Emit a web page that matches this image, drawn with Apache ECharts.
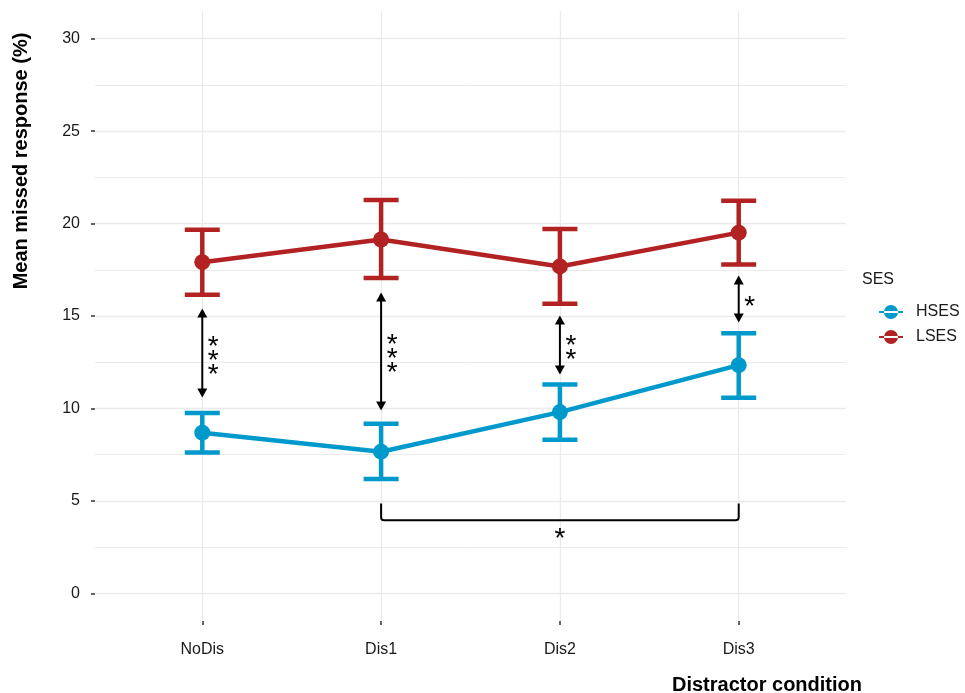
<!DOCTYPE html>
<html>
<head>
<meta charset="utf-8">
<script src="https://cdn.jsdelivr.net/npm/echarts@6/dist/echarts.min.js"></script>
<style>
  html, body { margin: 0; padding: 0; background: #ffffff; }
  #chart { width: 965px; height: 693px; }
</style>
</head>
<body>
<div id="chart"></div>
<script>
// Distractor conditions along the x axis (positions 1..4)
const categories = ['NoDis', 'Dis1', 'Dis2', 'Dis3'];

// High-SES group: mean and error-bar limits
const hsesMean = [8.69, 7.66, 9.80, 12.34];
const hsesLow  = [7.62, 6.18, 8.31, 10.58];
const hsesHigh = [9.75, 9.17, 11.30, 14.07];

// Low-SES group: mean and error-bar limits
const lsesMean = [17.91, 19.14, 17.68, 19.51];
const lsesLow  = [16.15, 17.05, 15.66, 17.78];
const lsesHigh = [19.66, 21.28, 19.71, 21.24];

// y-axis tick labels and minor grid positions
const yTicks = [0, 5, 10, 15, 20, 25, 30];
const yMinor = [2.5, 7.5, 12.5, 17.5, 22.5, 27.5];

// Between-group significance arrows at each condition
const arrowTop    = [15.41, 16.27, 15.03, 17.19];
const arrowBottom = [10.59, 9.89, 11.84, 14.65];
const arrowStars  = ['*\n*\n*', '*\n*\n*', '*\n*', '*'];

// Within-group bracket (Dis1 vs Dis3)
const bracketFrom = 2;
const bracketTo = 4;
const bracketTop = 4.86;
const bracketBottom = 3.95;
const bracketStarY = 3.2;
const bracketStar = '*';

const BLUE = '#0099cc';
const RED = '#b22222';
const GRID = '#ebebeb';
const FONT = '"Liberation Sans", Arial, sans-serif';

const xPos = categories.map((c, i) => i + 1);

function errorSeries(name, low, high, color) {
  return {
    type: 'custom',
    name: name,
    z: 3,
    data: xPos.map((x, i) => [x, low[i], high[i]]),
    encode: { x: 0, y: [1, 2] },
    renderItem: function (params, api) {
      const x = api.value(0);
      const lo = api.coord([x, api.value(1)]);
      const hi = api.coord([x, api.value(2)]);
      const half = 17.5;
      const style = { stroke: color, lineWidth: 4.5, fill: null };
      return {
        type: 'group',
        children: [
          { type: 'line', shape: { x1: lo[0], y1: lo[1], x2: hi[0], y2: hi[1] }, style: style },
          { type: 'line', shape: { x1: lo[0] - half, y1: lo[1], x2: lo[0] + half, y2: lo[1] }, style: style },
          { type: 'line', shape: { x1: hi[0] - half, y1: hi[1], x2: hi[0] + half, y2: hi[1] }, style: style }
        ]
      };
    }
  };
}

function lineSeries(name, mean, color) {
  return {
    type: 'line',
    name: name,
    z: 4,
    data: xPos.map((x, i) => [x, mean[i]]),
    symbol: 'circle',
    symbolSize: 16,
    lineStyle: { color: color, width: 4.5 },
    itemStyle: { color: color },
    emphasis: { disabled: true },
    animation: false
  };
}

// Background grid drawn as mark lines so it can include minor rows
const gridSeries = {
  type: 'line',
  name: 'grid',
  data: [],
  z: 0,
  silent: true,
  markLine: {
    z: 0,
    silent: true,
    symbol: ['none', 'none'],
    label: { show: false },
    animation: false,
    emphasis: { disabled: true },
    data: [
      ...xPos.map(v => ({ xAxis: v, lineStyle: { color: GRID, width: 1.3, type: 'solid' } })),
      ...yTicks.map(v => ({ yAxis: v, lineStyle: { color: GRID, width: 1.3, type: 'solid' } })),
      ...yMinor.map(v => ({ yAxis: v, lineStyle: { color: GRID, width: 1, type: 'solid' } }))
    ]
  }
};

const arrowSeries = {
  type: 'custom',
  name: 'arrows',
  z: 5,
  data: xPos.map((x, i) => [x, arrowTop[i], arrowBottom[i]]),
  encode: { x: 0, y: [1, 2] },
  renderItem: function (params, api) {
    const x = api.value(0);
    const t = api.coord([x, api.value(1)]);
    const b = api.coord([x, api.value(2)]);
    const hl = 9, hw = 5;
    const mid = (t[1] + b[1]) / 2;
    return {
      type: 'group',
      children: [
        { type: 'line', shape: { x1: t[0], y1: t[1] + 6, x2: b[0], y2: b[1] - 6 },
          style: { stroke: '#000', lineWidth: 2 } },
        { type: 'polygon', shape: { points: [[t[0], t[1]], [t[0] - hw, t[1] + hl], [t[0] + hw, t[1] + hl]] },
          style: { fill: '#000' } },
        { type: 'polygon', shape: { points: [[b[0], b[1]], [b[0] - hw, b[1] - hl], [b[0] + hw, b[1] - hl]] },
          style: { fill: '#000' } },
        { type: 'text',
          style: { text: arrowStars[params.dataIndex], x: t[0] + 11, y: mid + 8,
                   align: 'center', verticalAlign: 'middle', lineHeight: 14,
                   font: '28px ' + FONT, fill: '#000' } }
      ]
    };
  }
};

const bracketSeries = {
  type: 'custom',
  name: 'bracket',
  z: 5,
  data: [[bracketFrom, bracketTo, bracketTop, bracketBottom, bracketStarY]],
  encode: { x: [0, 1], y: [2, 3] },
  renderItem: function (params, api) {
    const a = api.coord([api.value(0), api.value(2)]);
    const b = api.coord([api.value(1), api.value(3)]);
    const s = api.coord([(api.value(0) + api.value(1)) / 2, api.value(4)]);
    const r = 3;
    const path = 'M' + a[0] + ',' + a[1] +
      ' L' + a[0] + ',' + (b[1] - r) +
      ' Q' + a[0] + ',' + b[1] + ' ' + (a[0] + r) + ',' + b[1] +
      ' L' + (b[0] - r) + ',' + b[1] +
      ' Q' + b[0] + ',' + b[1] + ' ' + b[0] + ',' + (b[1] - r) +
      ' L' + b[0] + ',' + a[1];
    return {
      type: 'group',
      children: [
        { type: 'path', shape: { pathData: path }, style: { stroke: '#000', lineWidth: 2, fill: null } },
        { type: 'text', style: { text: bracketStar, x: s[0], y: s[1] + 5, align: 'center',
          verticalAlign: 'middle', font: '28px ' + FONT, fill: '#000' } }
      ]
    };
  }
};

const chart = echarts.init(document.getElementById('chart'), null, { renderer: 'canvas' });

chart.setOption({
  animation: false,
  backgroundColor: '#ffffff',
  textStyle: { fontFamily: FONT },
  grid: { left: 95, right: 119, top: 11, bottom: 72 },
  xAxis: {
    type: 'value',
    min: 0.4,
    max: 4.6,
    axisLine: { show: false, onZero: false },
    splitLine: { show: false },
    axisTick: { show: true, length: 4, customValues: xPos, lineStyle: { color: '#333', width: 1.5 } },
    axisLabel: {
      customValues: xPos,
      margin: 21,
      fontSize: 16,
      color: '#1a1a1a',
      formatter: v => categories[Math.round(v) - 1] || ''
    }
  },
  yAxis: {
    type: 'value',
    min: -1.5,
    max: 31.5,
    axisLine: { show: false, onZero: false },
    splitLine: { show: false },
    axisTick: { show: true, length: 4, customValues: yTicks, lineStyle: { color: '#333', width: 1.5 } },
    axisLabel: { customValues: yTicks, margin: 15, fontSize: 16, color: '#1a1a1a' }
  },
  legend: {
    orient: 'vertical',
    left: 874,
    top: 299,
    itemWidth: 24,
    itemHeight: 14,
    itemGap: 9,
    data: ['HSES', 'LSES'],
    icon: 'path://M0,6 L24,6 L24,8 L0,8 Z M12,0 A7,7 0 1,0 12.001,0 Z',
    textStyle: { fontSize: 16, color: '#1a1a1a', padding: [0, 0, 0, 8] },
    selectedMode: false
  },
  graphic: [
    { type: 'text', left: 862, top: 272, style: { text: 'SES', font: '16px ' + FONT, fill: '#1a1a1a' } },
    { type: 'text', x: 21, y: 161, rotation: Math.PI / 2,
      style: { text: 'Mean missed response (%)', font: 'bold 20px ' + FONT, fill: '#000',
               align: 'center', verticalAlign: 'middle' } },
    { type: 'text', x: 862, y: 685,
      style: { text: 'Distractor condition', font: 'bold 20px ' + FONT, fill: '#000',
               align: 'right', verticalAlign: 'middle' } }
  ],
  series: [
    gridSeries,
    errorSeries('HSES-err', hsesLow, hsesHigh, BLUE),
    errorSeries('LSES-err', lsesLow, lsesHigh, RED),
    lineSeries('HSES', hsesMean, BLUE),
    lineSeries('LSES', lsesMean, RED),
    arrowSeries,
    bracketSeries
  ]
});
</script>
</body>
</html>
